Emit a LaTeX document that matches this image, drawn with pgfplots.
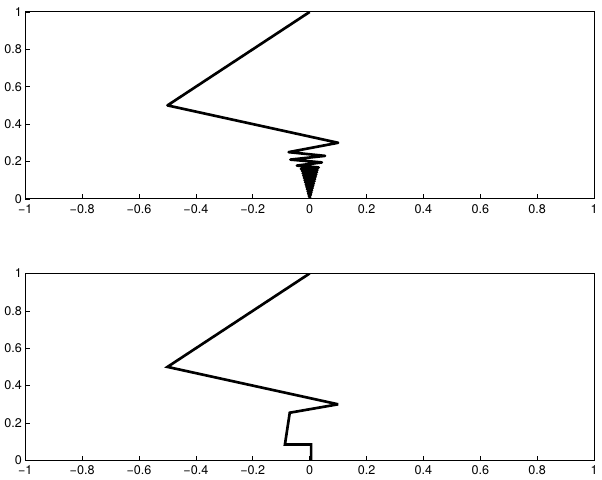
\documentclass[border=0pt]{standalone}
\usepackage{fontspec}
\setmainfont{TeX Gyre Heros}
\usepackage{pgfplots}
\pgfplotsset{compat=1.18}
\begin{document}
\begin{tikzpicture}
\pgfplotsset{
  mystyle/.style={
    scale only axis, width=429pt, height=141pt,
    xmin=-1, xmax=1, ymin=0, ymax=1,
    xtick={-1,-0.8,-0.6,-0.4,-0.2,0,0.2,0.4,0.6,0.8,1},
    xticklabels={−1,−0.8,−0.6,−0.4,−0.2,0,0.2,0.4,0.6,0.8,1},
    ytick={0,0.2,0.4,0.6,0.8,1},
    yticklabels={0,0.2,0.4,0.6,0.8,1},
    tick align=inside, xtick pos=left, ytick pos=left,
    major tick length=3.5pt,
    tick style={black, line width=0.5pt},
    ticklabel style={font=\fontsize{9.5}{11}\selectfont},
    xticklabel style={yshift=-0.5pt},
    yticklabel style={xshift=1pt},
    x axis line style={gray!80, line width=0.8pt},
    y axis line style={black, line width=0.8pt},
    anchor=south west,
  }
}
\begin{axis}[mystyle, name=top, at={(0,0)}]
\addplot[black, line width=2pt, line join=round] coordinates {
(0,1) (-0.5,0.5) (0.1,0.3) (-0.074,0.25) (0.054,0.23) (-0.068,0.21) (0.043,0.195)
(-0.045,0.178) (0.032,0.168) (-0.031,0.16)
(0.0277,0.154) (-0.0266,0.148) (0.0256,0.142) (-0.0245,0.136) (0.0234,0.130)
(-0.0223,0.124) (0.0212,0.118) (-0.0202,0.112) (0.0191,0.106) (-0.018,0.100)
(0.0169,0.094) (-0.0158,0.088) (0.0148,0.082) (-0.0137,0.076) (0.0126,0.070)
(-0.0115,0.064) (0.0104,0.058) (-0.0094,0.052) (0.0083,0.046) (-0.0072,0.040)
(0.0061,0.034) (-0.005,0.028) (0.004,0.022) (-0.0029,0.016) (0.0018,0.010)
(-0.0007,0.004) (0,0)
};
\end{axis}
\begin{axis}[mystyle, name=bot, at={(0,-197.25pt)}]
\addplot[black, line width=2pt, line join=miter, miter limit=4] coordinates {
(0,1) (-0.5,0.5) (0.1,0.3) (-0.07,0.255) (-0.087,0.085) (0.005,0.085) (0.005,0)
};
\end{axis}
\path (-16.5pt,150pt) rectangle (435pt,-209.25pt);
\end{tikzpicture}
\end{document}
